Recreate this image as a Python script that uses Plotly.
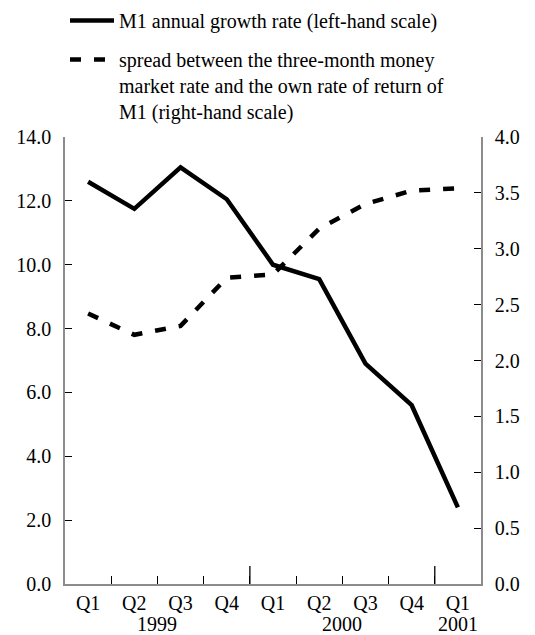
import plotly.graph_objects as go

quarters = ["Q1", "Q2", "Q3", "Q4", "Q1", "Q2", "Q3", "Q4", "Q1"]
years = ["1999", "1999", "1999", "1999", "2000", "2000", "2000", "2000", "2001"]
m1_growth = [12.6, 11.75, 13.05, 12.05, 10.0, 9.55, 6.9, 5.6, 2.4]
spread = [2.42, 2.23, 2.31, 2.74, 2.77, 3.18, 3.40, 3.52, 3.54]

name_m1 = "M1 annual growth rate (left-hand scale)"
name_spread = ("spread between the three-month money<br>market rate and the own rate of return of"
               "<br>M1 (right-hand scale)")

FONT = "Liberation Serif, Times New Roman, serif"
FS = 20
AXIS_GREY = "#8c8c8c"

idx = list(range(len(quarters)))
boundaries = [i + 0.5 for i in idx[:-1]]
year_bounds = [i + 0.5 for i in idx[:-1] if years[i] != years[i + 1]]
small_bounds = [b for b in boundaries if b not in year_bounds]

fig = go.Figure()
fig.add_trace(go.Scatter(x=idx, y=m1_growth, mode="lines", name=name_m1,
                         legendgroup="a",
                         line=dict(color="black", width=4.5), yaxis="y"))
fig.add_trace(go.Scatter(x=idx, y=spread, mode="lines", name=name_spread,
                         legendgroup="b",
                         line=dict(color="black", width=4.5, dash="11px,13px"), yaxis="y2"))

# year labels
year_order = []
for y in years:
    if y not in year_order:
        year_order.append(y)
for yr in year_order:
    pos = [i for i, y in zip(idx, years) if y == yr]
    fig.add_annotation(x=sum(pos) / len(pos), xref="x", y=0, yref="paper",
                       text=yr, showarrow=False, yanchor="top", yshift=-27,
                       font=dict(family=FONT, size=FS, color="black"))

# taller ticks at year boundaries
for b in year_bounds:
    fig.add_shape(type="line", xref="x", x0=b, x1=b, yref="paper",
                  ysizemode="pixel", yanchor=0, y0=0, y1=18,
                  line=dict(color="black", width=1.3))

fig.update_layout(
    width=535, height=635,
    margin=dict(l=65, r=54, t=137, b=51, autoexpand=False),
    paper_bgcolor="white", plot_bgcolor="white",
    font=dict(family=FONT, size=FS, color="black"),
    showlegend=True,
    legend=dict(x=0.0, y=1.304, xanchor="left", yanchor="top", valign="top",
                font=dict(family=FONT, size=FS, color="black"),
                traceorder="grouped", tracegroupgap=10,
                bgcolor="rgba(0,0,0,0)", itemwidth=44),
    xaxis=dict(range=[-0.5, len(idx) - 0.5], tickmode="array", tickvals=idx,
               ticktext=quarters, ticks="", showgrid=False, zeroline=False,
               showline=True, linecolor=AXIS_GREY, linewidth=1.5,
               minor=dict(tickmode="array", tickvals=small_bounds + year_bounds,
                          ticks="inside", ticklen=8, tickcolor="black", tickwidth=1,
                          showgrid=False),
               tickfont=dict(family=FONT, size=FS), fixedrange=True),
    yaxis=dict(range=[0, 14], dtick=2, tickformat=".1f", ticks="inside", ticklen=7,
               tickcolor="black", tickwidth=1.3, showgrid=False, zeroline=False,
               showline=True, linecolor=AXIS_GREY, linewidth=1.5,
               ticklabelstandoff=8,
               tickfont=dict(family=FONT, size=FS)),
    yaxis2=dict(range=[0, 4], dtick=0.5, tickformat=".1f", ticks="inside", ticklen=7,
                tickcolor="black", tickwidth=1.3, showgrid=False, zeroline=False,
                showline=True, linecolor=AXIS_GREY, linewidth=1.5,
                overlaying="y", side="right", ticklabelstandoff=8,
                tickfont=dict(family=FONT, size=FS)),
)

fig.write_html("out.html",
               config={"displayModeBar": False},
               post_script="document.body.style.margin='0px';"
                           "document.body.style.overflow='hidden';")
